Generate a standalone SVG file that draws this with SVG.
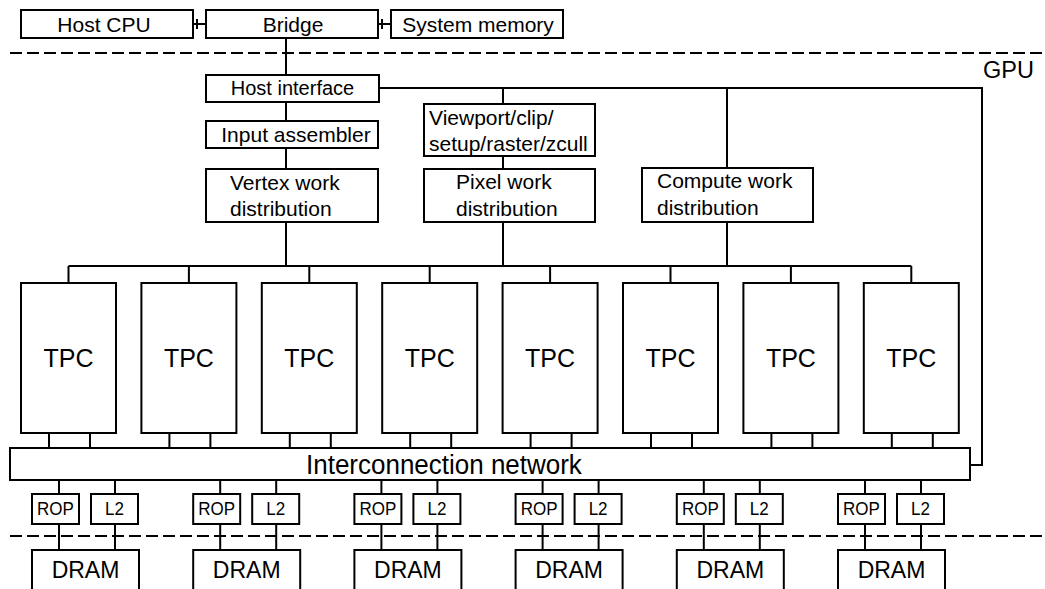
<svg xmlns="http://www.w3.org/2000/svg" width="1045" height="589" viewBox="0 0 1045 589">
  <style>
    .box { fill: #fff; stroke: #000; stroke-width: 2; }
    .wire { fill: none; stroke: #000; stroke-width: 2; }
    .dash { fill: none; stroke: #000; stroke-width: 2; stroke-dasharray: 12 5; }
    text { font-family: "Liberation Sans", Arial, sans-serif; fill: #000; }
    .t21 { font-size: 21px; }
    .mid { text-anchor: middle; }
    .tpc { font-size: 25px; text-anchor: middle; }
    .small { font-size: 17px; text-anchor: middle; }
    .dram { font-size: 23px; text-anchor: middle; }
  </style>

  <!-- chip boundaries -->
  <line class="dash" x1="10" y1="53" x2="1045" y2="53"/>
  <line class="dash" x1="10" y1="536" x2="1045" y2="536"/>
  <text x="983" y="78" style="font-size:23.5px">GPU</text>

  <!-- wiring -->
  <g id="connectors">
    <path class="wire" d="M193 24 H206 M197 19 V29"/>
    <path class="wire" d="M378 24 H391 M382 19 V29"/>
    <path class="wire" d="M286 38 V75 M286 102 V121 M286 148 V169 M286 222 V266"/>
    <path class="wire" d="M379 88 H982 V465 H970"/>
    <path class="wire" d="M503 88 V104 M503 156 V169 M503 222 V266"/>
    <path class="wire" d="M727 88 V168 M727 222 V266"/>
    <path class="wire" d="M68.5 266 H911.3"/>
    <path class="wire" d="M68.5 266 V283 M188.9 266 V283 M309.3 266 V283 M429.7 266 V283 M550.1 266 V283 M670.5 266 V283 M790.9 266 V283 M911.3 266 V283"/>
    <!-- TPC legs into the network -->
    <path class="wire" d="M49 433 V448 M90 433 V448
                          M169.4 433 V448 M210.4 433 V448
                          M289.8 433 V448 M330.8 433 V448
                          M410.2 433 V448 M451.2 433 V448
                          M530.6 433 V448 M571.6 433 V448
                          M651 433 V448 M692 433 V448
                          M771.4 433 V448 M812.4 433 V448
                          M891.8 433 V448 M932.8 433 V448"/>
    <!-- network to ROP/L2 to DRAM -->
    <path class="wire" d="M59 480 V550 M115 480 V550
                          M220.2 480 V550 M276.2 480 V550
                          M381.4 480 V550 M437.4 480 V550
                          M542.6 480 V550 M598.6 480 V550
                          M703.8 480 V550 M759.8 480 V550
                          M865 480 V550 M921 480 V550"/>
  </g>

  <!-- host side -->
  <g id="host-cpu"><rect class="box" x="21" y="10" width="172" height="28"/><text class="t21 mid" x="104" y="32">Host CPU</text></g>
  <g id="bridge"><rect class="box" x="206" y="10" width="172" height="28"/><text class="t21 mid" x="293" y="32">Bridge</text></g>
  <g id="system-memory"><rect class="box" x="391" y="10" width="172" height="28"/><text class="t21 mid" x="478" y="32">System memory</text></g>

  <!-- front end -->
  <g id="host-interface"><rect class="box" x="206" y="75" width="173" height="27"/><text class="mid" style="font-size:20px" x="292.5" y="95">Host interface</text></g>
  <g id="input-assembler"><rect class="box" x="206" y="121" width="172" height="27"/><text class="t21 mid" x="296" y="142">Input assembler</text></g>
  <g id="vertex-work"><rect class="box" x="206" y="169" width="172" height="53"/><text class="t21" x="230" y="190">Vertex work</text><text class="t21" x="230" y="216">distribution</text></g>
  <g id="viewport"><rect class="box" x="424" y="104" width="171" height="52"/><text class="t21" x="429" y="125">Viewport/clip/</text><text class="t21" x="429" y="151">setup/raster/zcull</text></g>
  <g id="pixel-work"><rect class="box" x="424" y="169" width="171" height="53"/><text class="t21" x="456" y="189">Pixel work</text><text class="t21" x="456" y="216">distribution</text></g>
  <g id="compute-work"><rect class="box" x="642" y="168" width="171" height="54"/><text class="t21" x="657" y="188">Compute work</text><text class="t21" x="657" y="215">distribution</text></g>

  <!-- texture/processor clusters -->
  <g id="tpc-1"><rect class="box" x="21" y="283" width="95" height="150"/><text class="tpc" x="68.5" y="367">TPC</text></g>
  <g id="tpc-2"><rect class="box" x="141.4" y="283" width="95" height="150"/><text class="tpc" x="188.9" y="367">TPC</text></g>
  <g id="tpc-3"><rect class="box" x="261.8" y="283" width="95" height="150"/><text class="tpc" x="309.3" y="367">TPC</text></g>
  <g id="tpc-4"><rect class="box" x="382.2" y="283" width="95" height="150"/><text class="tpc" x="429.7" y="367">TPC</text></g>
  <g id="tpc-5"><rect class="box" x="502.6" y="283" width="95" height="150"/><text class="tpc" x="550.1" y="367">TPC</text></g>
  <g id="tpc-6"><rect class="box" x="623" y="283" width="95" height="150"/><text class="tpc" x="670.5" y="367">TPC</text></g>
  <g id="tpc-7"><rect class="box" x="743.4" y="283" width="95" height="150"/><text class="tpc" x="790.9" y="367">TPC</text></g>
  <g id="tpc-8"><rect class="box" x="863.8" y="283" width="95" height="150"/><text class="tpc" x="911.3" y="367">TPC</text></g>

  <g id="interconnect"><rect class="box" x="10" y="448" width="960" height="32"/><text transform="translate(306 473.5) scale(1 1.07)" style="font-size:26px">Interconnection network</text></g>

  <!-- memory partitions -->
  <g id="rop-1"><rect class="box" x="32" y="494" width="47" height="30"/><text class="small" transform="translate(55.5 514.5) scale(1 1.1)">ROP</text></g>
  <g id="l2-1"><rect class="box" x="91" y="494" width="47" height="30"/><text class="small" transform="translate(114.5 514.5) scale(1 1.1)">L2</text></g>
  <g id="dram-1"><rect class="box" x="32" y="550" width="107" height="50"/><text class="dram" x="85.5" y="578">DRAM</text></g>

  <g id="rop-2"><rect class="box" x="193.2" y="494" width="47" height="30"/><text class="small" transform="translate(216.7 514.5) scale(1 1.1)">ROP</text></g>
  <g id="l2-2"><rect class="box" x="252.2" y="494" width="47" height="30"/><text class="small" transform="translate(275.7 514.5) scale(1 1.1)">L2</text></g>
  <g id="dram-2"><rect class="box" x="193.2" y="550" width="107" height="50"/><text class="dram" x="246.7" y="578">DRAM</text></g>

  <g id="rop-3"><rect class="box" x="354.4" y="494" width="47" height="30"/><text class="small" transform="translate(377.9 514.5) scale(1 1.1)">ROP</text></g>
  <g id="l2-3"><rect class="box" x="413.4" y="494" width="47" height="30"/><text class="small" transform="translate(436.9 514.5) scale(1 1.1)">L2</text></g>
  <g id="dram-3"><rect class="box" x="354.4" y="550" width="107" height="50"/><text class="dram" x="407.9" y="578">DRAM</text></g>

  <g id="rop-4"><rect class="box" x="515.6" y="494" width="47" height="30"/><text class="small" transform="translate(539.1 514.5) scale(1 1.1)">ROP</text></g>
  <g id="l2-4"><rect class="box" x="574.6" y="494" width="47" height="30"/><text class="small" transform="translate(598.1 514.5) scale(1 1.1)">L2</text></g>
  <g id="dram-4"><rect class="box" x="515.6" y="550" width="107" height="50"/><text class="dram" x="569.1" y="578">DRAM</text></g>

  <g id="rop-5"><rect class="box" x="676.8" y="494" width="47" height="30"/><text class="small" transform="translate(700.3 514.5) scale(1 1.1)">ROP</text></g>
  <g id="l2-5"><rect class="box" x="735.8" y="494" width="47" height="30"/><text class="small" transform="translate(759.3 514.5) scale(1 1.1)">L2</text></g>
  <g id="dram-5"><rect class="box" x="676.8" y="550" width="107" height="50"/><text class="dram" x="730.3" y="578">DRAM</text></g>

  <g id="rop-6"><rect class="box" x="838" y="494" width="47" height="30"/><text class="small" transform="translate(861.5 514.5) scale(1 1.1)">ROP</text></g>
  <g id="l2-6"><rect class="box" x="897" y="494" width="47" height="30"/><text class="small" transform="translate(920.5 514.5) scale(1 1.1)">L2</text></g>
  <g id="dram-6"><rect class="box" x="838" y="550" width="107" height="50"/><text class="dram" x="891.5" y="578">DRAM</text></g>
</svg>
